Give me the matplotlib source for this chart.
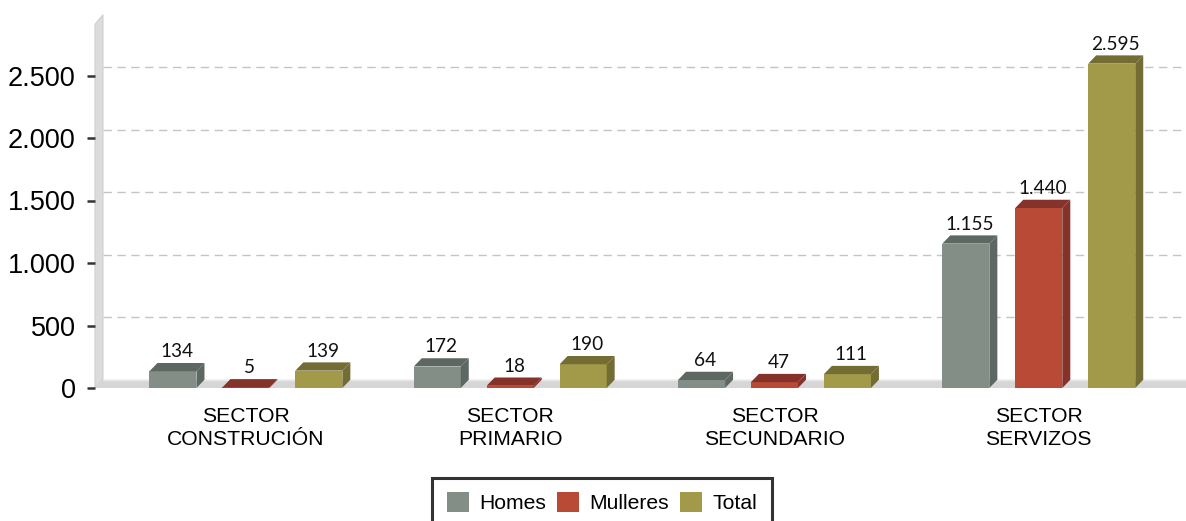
import matplotlib
matplotlib.use("Agg")
import matplotlib.pyplot as plt
from matplotlib.patches import Polygon, Patch
import numpy as np

categories = ["SECTOR\nCONSTRUCIÓN", "SECTOR\nPRIMARIO", "SECTOR\nSECUNDARIO", "SECTOR\nSERVIZOS"]
series_names = ["Homes", "Mulleres", "Total"]
homes = [134, 172, 64, 1155]
mulleres = [5, 18, 47, 1440]
total = [139, 190, 111, 2595]
yticks = [0, 500, 1000, 1500, 2000, 2500]
ytick_labels = ["0", "500", "1.000", "1.500", "2.000", "2.500"]

front_colors = ["#838f86", "#b84a36", "#a39a49"]
dark_colors = ["#5e6862", "#85322a", "#736c33"]

plt.rcParams['font.family'] = ['Liberation Sans', 'DejaVu Sans']

W, H = 1186, 521
fig = plt.figure(figsize=(W / 100, H / 100), dpi=100)
ax = fig.add_axes([95 / W, (H - 388) / H, 1091 / W, 363.75 / H])

xmin, xmax = -0.571, 3.557
ymax = 2910
ax.set_xlim(xmin, xmax)
ax.set_ylim(0, ymax)

dx = 0.0302
dy = 66
bw = 0.178
offs = [-0.276, 0.0, 0.276]

# back wall (left) and floor
wall = Polygon([(xmin, 0), (xmin + dx, dy), (xmin + dx, ymax + dy + 10), (xmin, ymax)],
               closed=True, facecolor="#dcdcdc", edgecolor="#cfcfcf", lw=0.8,
               clip_on=False, zorder=1)
ax.add_patch(wall)
floor = Polygon([(xmin, 0), (xmin + dx, dy), (xmax + 0.1, dy), (xmax + 0.1, 0)],
                closed=True, facecolor="#d6d6d6", edgecolor="none",
                clip_on=False, zorder=1)
ax.add_patch(floor)
ax.plot([xmin + dx, xmax + 0.1], [dy, dy], color="#e8e8e8", lw=1, clip_on=False, zorder=1.1)

# gridlines on back wall
for v in yticks[1:]:
    ax.plot([xmin + dx, xmax + 0.1], [v + dy, v + dy], color="#c4c4c4", lw=1,
            ls=(0, (6, 4)), clip_on=False, zorder=0.5)

x = np.arange(len(categories))
data = [homes, mulleres, total]
for si, vals in enumerate(data):
    for ci, v in enumerate(vals):
        xc = x[ci] + offs[si]
        x0, x1 = xc - bw / 2, xc + bw / 2
        ax.bar(xc, v, width=bw, color=front_colors[si], edgecolor="none", zorder=3)
        top = Polygon([(x0, v), (x0 + dx, v + dy), (x1 + dx, v + dy), (x1, v)],
                      closed=True, facecolor=dark_colors[si], edgecolor="none", zorder=3)
        side = Polygon([(x1, 0), (x1 + dx, dy), (x1 + dx, v + dy), (x1, v)],
                       closed=True, facecolor=dark_colors[si], edgecolor="none", zorder=3)
        ax.add_patch(top)
        ax.add_patch(side)
        lab = f"{v:,}".replace(",", ".")
        ax.text(xc + dx / 2, v + dy + 22, lab, ha="center", va="bottom",
                fontsize=13.7, family=["Lato", "DejaVu Sans"], color="#111111", zorder=4)

for s in ax.spines.values():
    s.set_visible(False)

ax.set_yticks(yticks)
ax.set_yticklabels(ytick_labels, fontsize=19.5)
ax.tick_params(axis="y", length=6, width=1.8, color="#333333", pad=7.8)
ax.set_xticks(x)
ax.set_xticklabels(categories, fontsize=15.2, linespacing=1.27)
ax.tick_params(axis="x", length=0, pad=13.5)

handles = [Patch(facecolor=c, edgecolor="none") for c in front_colors]
leg = fig.legend(handles, series_names, loc="upper center",
                 bbox_to_anchor=(602 / W, 1 - 477.5 / H), ncol=3, fontsize=15.2,
                 frameon=True, fancybox=False, handlelength=1.05, handleheight=1.05,
                 handletextpad=0.5, columnspacing=0.5, borderpad=0.7,
                 borderaxespad=0)
leg.get_frame().set_edgecolor("black")
leg.get_frame().set_linewidth(2.2)

fig.savefig("out.png", dpi=100)
